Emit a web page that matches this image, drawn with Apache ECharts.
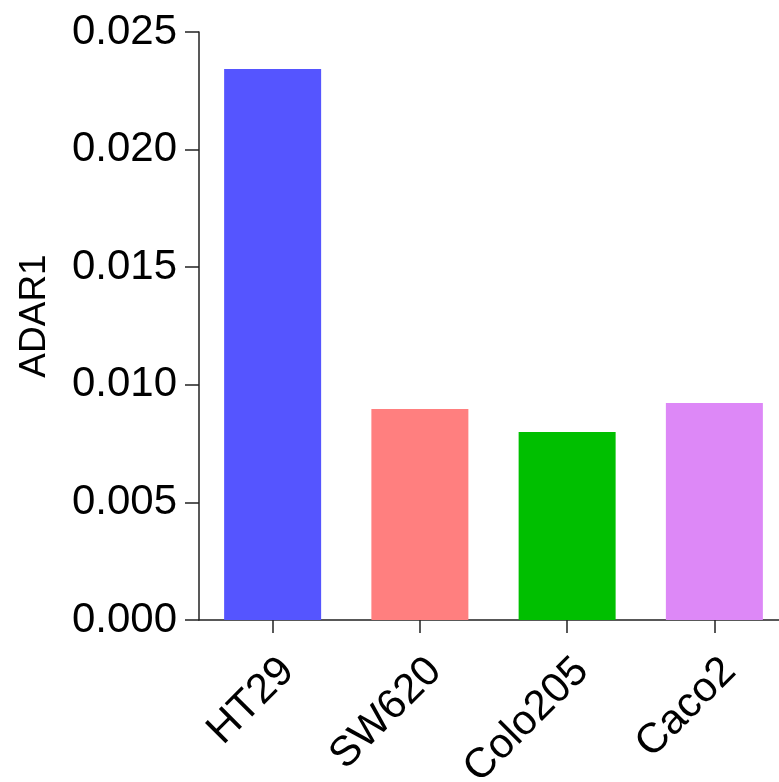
<!DOCTYPE html>
<html>
<head>
<meta charset="utf-8">
<script src="https://cdn.jsdelivr.net/npm/echarts@6/dist/echarts.min.js"></script>
<style>
html,body{margin:0;padding:0;background:#fff;}
#chart{width:779px;height:782px;}
</style>
</head>
<body>
<div id="chart"></div>
<script>
const categories = ['HT29', 'SW620', 'Colo205', 'Caco2'];
const values = [0.02343, 0.00897, 0.00799, 0.00923];
const colors = ['#5555FF', '#FF7F7F', '#00BF00', '#DD88F7'];
const yTicks = [0, 0.005, 0.010, 0.015, 0.020, 0.025];

const chart = echarts.init(document.getElementById('chart'), null, {renderer: 'canvas'});
const font = 'Liberation Sans, Arial, sans-serif';
chart.setOption({
  animation: false,
  backgroundColor: '#fff',
  grid: {left: 199, top: 32, width: 589, height: 588, containLabel: false, outerBoundsMode: 'none'},
  xAxis: {
    type: 'category',
    data: categories,
    boundaryGap: true,
    axisLine: {show: true, lineStyle: {color: '#222', width: 1.5}},
    axisTick: {show: true, alignWithLabel: true, length: 13, lineStyle: {color: '#222', width: 1.5}},
    axisLabel: {rotate: 45, fontSize: 42, fontFamily: font, color: '#000', margin: 30, verticalAlign: 'top', interval: 0}
  },
  yAxis: {
    type: 'value',
    min: yTicks[0],
    max: yTicks[yTicks.length - 1],
    interval: 0.005,
    name: 'ADAR1',
    nameLocation: 'middle',
    nameGap: 146,
    nameRotate: 90,
    nameTextStyle: {fontSize: 37, fontFamily: font, color: '#000', padding: [0, 0, 0, 20]},
    axisLine: {show: true, lineStyle: {color: '#222', width: 1.5}},
    axisTick: {show: true, length: 14, lineStyle: {color: '#222', width: 1.5}},
    splitLine: {show: false},
    axisLabel: {fontSize: 42, fontFamily: font, color: '#000', margin: 22,
      formatter: v => v.toFixed(3)}
  },
  series: [{
    type: 'bar',
    data: values.map((v, i) => ({value: v, itemStyle: {color: colors[i]}})),
    barWidth: 97
  }]
});
</script>
</body>
</html>
